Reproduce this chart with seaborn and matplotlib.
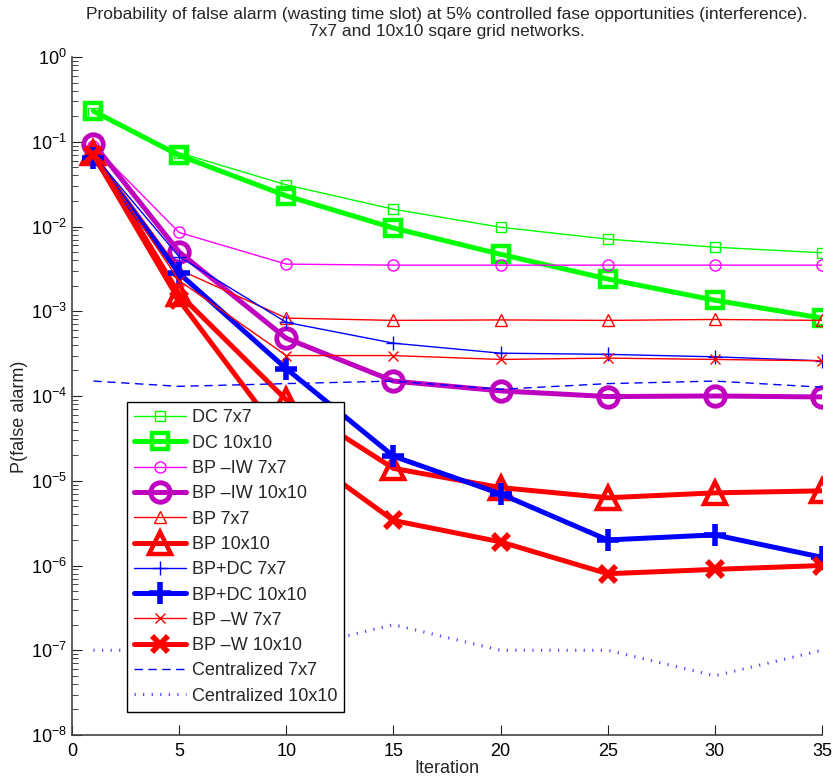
import numpy as np
import pandas as pd
import matplotlib
matplotlib.use("Agg")
import matplotlib.pyplot as plt
from matplotlib.ticker import LogLocator, NullFormatter, LogFormatterMathtext
import seaborn as sns

iters = [1, 5, 10, 15, 20, 25, 30, 35]

dc_7 = [0.22, 0.074, 0.031, 0.016, 0.0098, 0.0071, 0.0057, 0.0049]
dc_10 = [0.23, 0.069, 0.023, 0.0096, 0.0047, 0.0024, 0.00135, 0.00083]
bpiw_7 = [0.09, 0.0085, 0.0036, 0.0035, 0.0035, 0.0035, 0.0035, 0.0035]
bpiw_10 = [0.095, 0.005, 0.00048, 0.00015, 0.000115, 0.0000985, 0.0001, 0.0000975]
bp_7 = [0.075, 0.0031, 0.00083, 0.00078, 0.00079, 0.00078, 0.0008, 0.00078]
bp_10 = [0.074, 0.0016, 0.00009, 0.000014, 0.0000083, 0.0000063, 0.0000072, 0.0000076]
bpdc_7 = [0.07, 0.0044, 0.00074, 0.00042, 0.00032, 0.00031, 0.00029, 0.00026]
bpdc_10 = [0.065, 0.0028, 0.00021, 0.0000195, 0.000007, 0.000002, 0.0000023, 0.00000125]
bpw_7 = [0.072, 0.0023, 0.0003, 0.0003, 0.00027, 0.00028, 0.00027, 0.00026]
bpw_10 = [0.07, 0.00135, 0.000028, 0.0000034, 0.0000019, 0.0000008, 0.0000009, 0.000001]
cen_7 = [0.00015, 0.00013, 0.00014, 0.00015, 0.00012, 0.00014, 0.00015, 0.000127]
cen_10 = [1e-7, 1e-7, 1e-7, 2e-7, 1e-7, 1e-7, 5e-8, 1e-7]

labels = ["DC 7x7", "DC 10x10", "BP \u2013IW 7x7", "BP \u2013IW 10x10",
          "BP 7x7", "BP 10x10", "BP+DC 7x7", "BP+DC 10x10",
          "BP \u2013W 7x7", "BP \u2013W 10x10", "Centralized 7x7", "Centralized 10x10"]
series = [dc_7, dc_10, bpiw_7, bpiw_10, bp_7, bp_10, bpdc_7, bpdc_10,
          bpw_7, bpw_10, cen_7, cen_10]

# color, linewidth, marker, markersize, markeredgewidth, linestyle
styles = [
    ("#00ff00", 1.0, "s", 7, 1.0, "-"),
    ("#00ff00", 3.6, "s", 12, 3.2, "-"),
    ("#ff00ff", 1.0, "o", 8, 1.0, "-"),
    ("#bf00bf", 3.6, "o", 14, 3.5, "-"),
    ("#ff0000", 1.0, "^", 8, 1.0, "-"),
    ("#ff0000", 3.6, "^", 16, 3.2, "-"),
    ("#0000ff", 1.0, "+", 10, 1.0, "-"),
    ("#0000ff", 3.6, "+", 16, 4.0, "-"),
    ("#ff0000", 1.0, "x", 7, 1.0, "-"),
    ("#ff0000", 3.6, "x", 12, 4.0, "-"),
    ("#0000ff", 1.0, "None", 1, 1.0, (0, (6, 4))),
    ("#4646ff", 2.2, "None", 1, 1.0, (0, (0.4, 2.4))),
]

sns.set_style("ticks")
plt.rcParams["font.family"] = ["Liberation Sans", "DejaVu Sans"]

fig = plt.figure(figsize=(8.36, 7.83), dpi=100)
ax = fig.add_axes([72 / 836, 48 / 783, 750 / 836, 678 / 783])

for lab, vals, (c, lw, m, ms, mew, ls) in zip(labels, series, styles):
    df = pd.DataFrame({"Iteration": iters, "P": vals})
    sns.lineplot(data=df, x="Iteration", y="P", ax=ax, color=c, lw=lw,
                 marker=m, ms=ms, mfc="none", mec=c, mew=mew,
                 linestyle=ls, label=lab, dash_capstyle="butt")

ax.set_yscale("log")
ax.set_xlim(0, 35)
ax.set_ylim(1e-8, 1)
ax.set_xticks(range(0, 36, 5))
ax.yaxis.set_major_locator(LogLocator(base=10, numticks=20))
ax.yaxis.set_major_formatter(LogFormatterMathtext())
ax.yaxis.set_minor_locator(LogLocator(base=10, subs=np.arange(2, 10), numticks=100))
ax.yaxis.set_minor_formatter(NullFormatter())
ax.tick_params(direction="in", which="major", length=7, width=0.8, colors="#222222",
               labelcolor="black")
ax.tick_params(direction="in", which="minor", length=4, width=0.6, colors="#222222")
ax.tick_params(axis="x", labelsize=13, pad=6)
ax.tick_params(axis="y", labelsize=13)
for s in ["top", "right"]:
    ax.spines[s].set_visible(False)
for s in ["left", "bottom"]:
    ax.spines[s].set_color("#444444")
    ax.spines[s].set_linewidth(1.2)

ax.set_xlabel("Iteration", fontsize=13, labelpad=0)
ax.set_ylabel("P(false alarm)", fontsize=13)
ax.yaxis.set_label_coords(-0.058, 0.47)
ax.set_title("Probability of false alarm (wasting time slot) at 5% controlled fase "
             "opportunities (interference).\n7x7 and 10x10 sqare grid networks.",
             fontsize=12.5, linespacing=1.15, pad=15)

leg = ax.legend(loc="lower left", bbox_to_anchor=(0.073, 0.034), fontsize=13,
                frameon=True, fancybox=False, edgecolor="black", framealpha=1,
                handlelength=2.9, labelspacing=0.46, borderpad=0.4,
                handletextpad=0.3, borderaxespad=0)
leg.get_frame().set_linewidth(1.0)

fig.savefig("out.png", dpi=100)
plt.close(fig)
